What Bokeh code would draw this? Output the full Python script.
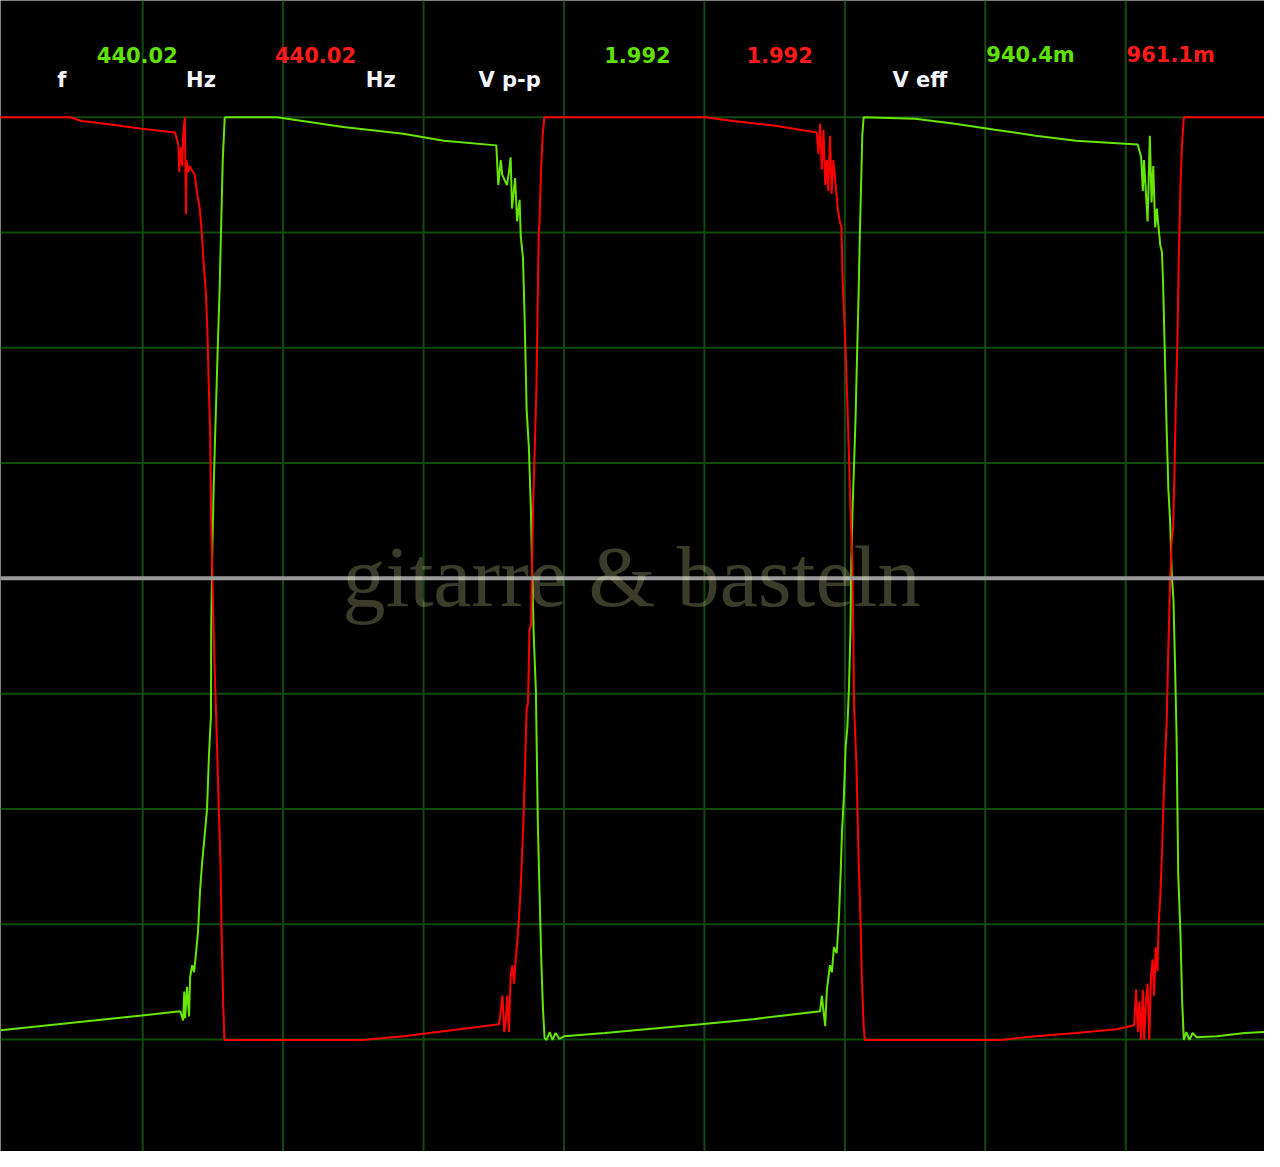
from bokeh.plotting import figure
from bokeh.models import Range1d, Span, Label
from bokeh.embed import file_html
from bokeh.resources import INLINE

# ---------------- data (time in ms, 0.5 ms/div; voltage in V, 0.25 V/div) ----------------
ch1_t = [-0.006, 0.497, 0.634, 0.644, 0.648, 0.651, 0.658, 0.665, 0.669, 0.676,
         0.683, 0.690, 0.697, 0.704, 0.711, 0.722, 0.729, 0.736, 0.743, 0.744,
         0.748, 0.753, 0.760, 0.767, 0.774, 0.780, 0.785, 0.792, 0.799, 0.978,
         1.214, 1.428, 1.572, 1.759, 1.766, 1.775, 1.780, 1.797, 1.804, 1.810,
         1.815, 1.826, 1.833, 1.842, 1.846, 1.854, 1.860, 1.867, 1.875, 1.882,
         1.886, 1.892, 1.900, 1.907, 1.913, 1.919, 1.925, 1.931, 1.938, 1.949,
         1.959, 1.970, 1.984, 2.001, 2.146, 2.487, 2.673, 2.912, 2.918, 2.930,
         2.936, 2.947, 2.954, 2.961, 2.971, 2.979, 2.985, 2.990, 2.997, 3.003,
         3.009, 3.015, 3.020, 3.023, 3.027, 3.032, 3.038, 3.043, 3.049, 3.053,
         3.059, 3.062, 3.067, 3.250, 3.392, 3.534, 3.679, 3.823, 4.043, 4.055,
         4.061, 4.065, 4.078, 4.086, 4.092, 4.098, 4.105, 4.111, 4.117, 4.123,
         4.129, 4.133, 4.139, 4.146, 4.152, 4.158, 4.164, 4.170, 4.175, 4.181,
         4.187, 4.195, 4.201, 4.207, 4.216, 4.227, 4.238, 4.252, 4.325, 4.424,
         4.494]
ch1_v = [-0.980, -0.948, -0.939, -0.959, -0.896, -0.954, -0.886, -0.950, -0.864, -0.839,
         -0.854, -0.811, -0.766, -0.680, -0.621, -0.548, -0.501, -0.383, -0.298, -0.112,
         0.066, 0.205, 0.353, 0.496, 0.629, 0.781, 0.907, 0.999, 1.000, 1.000,
         0.979, 0.964, 0.949, 0.939, 0.853, 0.907, 0.875, 0.853, 0.881, 0.913,
         0.802, 0.868, 0.774, 0.821, 0.742, 0.695, 0.562, 0.366, 0.284, 0.154,
         0.034, -0.118, -0.244, -0.535, -0.680, -0.826, -0.931, -0.997, -1.001, -0.984,
         -1.001, -0.986, -0.999, -0.993, -0.986, -0.967, -0.956, -0.939, -0.905, -0.971,
         -0.892, -0.839, -0.854, -0.800, -0.813, -0.734, -0.640, -0.548, -0.469, -0.364,
         -0.323, -0.231, -0.112, 0.034, 0.141, 0.233, 0.344, 0.470, 0.616, 0.736,
         0.881, 0.960, 1.000, 0.997, 0.986, 0.973, 0.960, 0.949, 0.941, 0.913,
         0.840, 0.907, 0.774, 0.960, 0.815, 0.894, 0.761, 0.802, 0.761, 0.723,
         0.708, 0.642, 0.496, 0.319, 0.192, 0.126, 0.008, -0.045, -0.171, -0.336,
         -0.640, -0.772, -0.918, -1.001, -0.984, -1.001, -0.986, -0.995, -0.993, -0.986,
         -0.984]

ch2_t = [-0.006, 0.243, 0.282, 0.366, 0.497, 0.615, 0.627, 0.630, 0.636, 0.641,
         0.644, 0.650, 0.654, 0.656, 0.662, 0.668, 0.685, 0.694, 0.703, 0.709,
         0.717, 0.724, 0.730, 0.735, 0.740, 0.744, 0.750, 0.756, 0.764, 0.771,
         0.777, 0.781, 0.787, 0.791, 1.284, 1.428, 1.572, 1.769, 1.781, 1.787,
         1.793, 1.798, 1.804, 1.810, 1.816, 1.822, 1.828, 1.834, 1.843, 1.849,
         1.855, 1.861, 1.867, 1.872, 1.877, 1.883, 1.886, 1.890, 1.896, 1.902,
         1.906, 1.910, 1.913, 1.918, 1.924, 1.930, 2.501, 2.603, 2.747, 2.900,
         2.906, 2.912, 2.918, 2.924, 2.930, 2.936, 2.941, 2.947, 2.953, 2.959,
         2.965, 2.971, 2.976, 2.982, 2.988, 2.992, 2.997, 3.003, 3.009, 3.015,
         3.021, 3.027, 3.029, 3.033, 3.041, 3.049, 3.055, 3.061, 3.067, 3.071,
         3.557, 3.679, 3.823, 3.967, 4.030, 4.037, 4.043, 4.049, 4.055, 4.061,
         4.066, 4.072, 4.078, 4.084, 4.090, 4.096, 4.101, 4.107, 4.113, 4.117,
         4.123, 4.129, 4.135, 4.140, 4.146, 4.151, 4.157, 4.163, 4.169, 4.173,
         4.178, 4.184, 4.189, 4.195, 4.201, 4.207, 4.494]
ch2_v = [1.000, 1.000, 0.992, 0.986, 0.975, 0.967, 0.941, 0.881, 0.935, 0.894,
         0.960, 1.000, 0.789, 0.907, 0.881, 0.894, 0.875, 0.834, 0.802, 0.761,
         0.682, 0.629, 0.543, 0.423, 0.325, 0.113, -0.045, -0.191, -0.349, -0.501,
         -0.621, -0.766, -0.931, -1.001, -1.001, -0.993, -0.982, -0.967, -0.905, -0.984,
         -0.959, -0.905, -0.984, -0.864, -0.839, -0.879, -0.826, -0.785, -0.706, -0.627,
         -0.535, -0.415, -0.283, -0.270, -0.112, -0.099, 0.021, 0.154, 0.284, 0.417,
         0.577, 0.748, 0.774, 0.881, 0.960, 1.000, 1.000, 0.992, 0.982, 0.967,
         0.920, 0.986, 0.887, 0.973, 0.853, 0.907, 0.840, 0.960, 0.834, 0.907,
         0.868, 0.828, 0.796, 0.774, 0.761, 0.650, 0.577, 0.490, 0.378, 0.259,
         0.126, 0.034, -0.058, -0.283, -0.396, -0.608, -0.727, -0.873, -0.971, -1.001,
         -1.001, -0.993, -0.986, -0.978, -0.969, -0.892, -0.984, -0.918, -1.001, -0.892,
         -1.001, -0.918, -0.879, -1.001, -0.864, -0.826, -0.905, -0.800, -0.852, -0.753,
         -0.693, -0.601, -0.481, -0.390, -0.310, -0.171, -0.032, 0.075, 0.113, 0.212,
         0.366, 0.511, 0.695, 0.853, 0.947, 1.000, 1.000]

grid_t = [0.5, 1.0, 1.5, 2.0, 2.5, 3.0, 3.5, 4.0]
grid_v = [-1.0, -0.75, -0.5, -0.25, 0.25, 0.5, 0.75, 1.0]

readout_texts = ["440.02", "440.02", "1.992", "1.992", "940.4m", "961.1m"]
readout_channels = ["ch1", "ch2", "ch1", "ch2", "ch1", "ch2"]
unit_texts = ["f", "Hz", "Hz", "V p-p", "V eff"]
watermark_text = "gitarre & basteln"

# ---------------- layout / style ----------------
W, H = 1264, 1151
COL = {"ch1": "#66e600", "ch2": "#ff0000"}
TXT = {"ch1": "#5fe000", "ch2": "#ff1a1a"}
readout_x = [136.8, 315.0, 636.9, 779.1, 1030.0, 1170.2]   # screen px (centers)
readout_y = 1097.0                                           # screen px (from bottom)
unit_x = [61.2, 200.5, 380.2, 509.1, 919.4]
unit_y = 1071.3

p = figure(width=W, height=H, output_backend="svg", toolbar_location=None,
           x_range=Range1d(-0.0063, 4.4942), y_range=Range1d(-1.2430, 1.2532),
           x_axis_location=None, y_axis_location=None, min_border=0,
           background_fill_color="black", border_fill_color="black",
           outline_line_color=None)
p.xgrid.visible = False
p.ygrid.visible = False

for t in grid_t:
    p.add_layout(Span(location=t, dimension="height", line_color="#134a0f",
                      line_width=2, level="underlay"))
for v in grid_v:
    p.add_layout(Span(location=v, dimension="width", line_color="#134a0f",
                      line_width=2, level="underlay"))

p.line(ch1_t, ch1_v, line_color=COL["ch1"], line_width=2)
p.line(ch2_t, ch2_v, line_color=COL["ch2"], line_width=2)

# center (0 V) reference line
p.add_layout(Span(location=0, dimension="width", line_color="#9a9a9a", line_width=4))

for txt, ch, x in zip(readout_texts, readout_channels, readout_x):
    p.add_layout(Label(x=x, y=readout_y, x_units="screen", y_units="screen", text=txt,
                       text_color=TXT[ch], text_font="DejaVu Sans", text_font_style="bold",
                       text_font_size="21px", text_align="center",
                       text_baseline="alphabetic"))
for txt, x in zip(unit_texts, unit_x):
    p.add_layout(Label(x=x, y=unit_y, x_units="screen", y_units="screen", text=txt,
                       text_color="#f4f6ff", text_font="DejaVu Sans", text_font_style="bold",
                       text_font_size="21px", text_align="center",
                       text_baseline="alphabetic"))

p.add_layout(Label(x=631, y=575, x_units="screen", y_units="screen", text=watermark_text,
                   text_color="#fafab4", text_alpha=0.24, text_font="Liberation Serif",
                   text_font_size="86px", text_align="center", text_baseline="alphabetic"))

open("out.html", "w").write(file_html(p, INLINE))
